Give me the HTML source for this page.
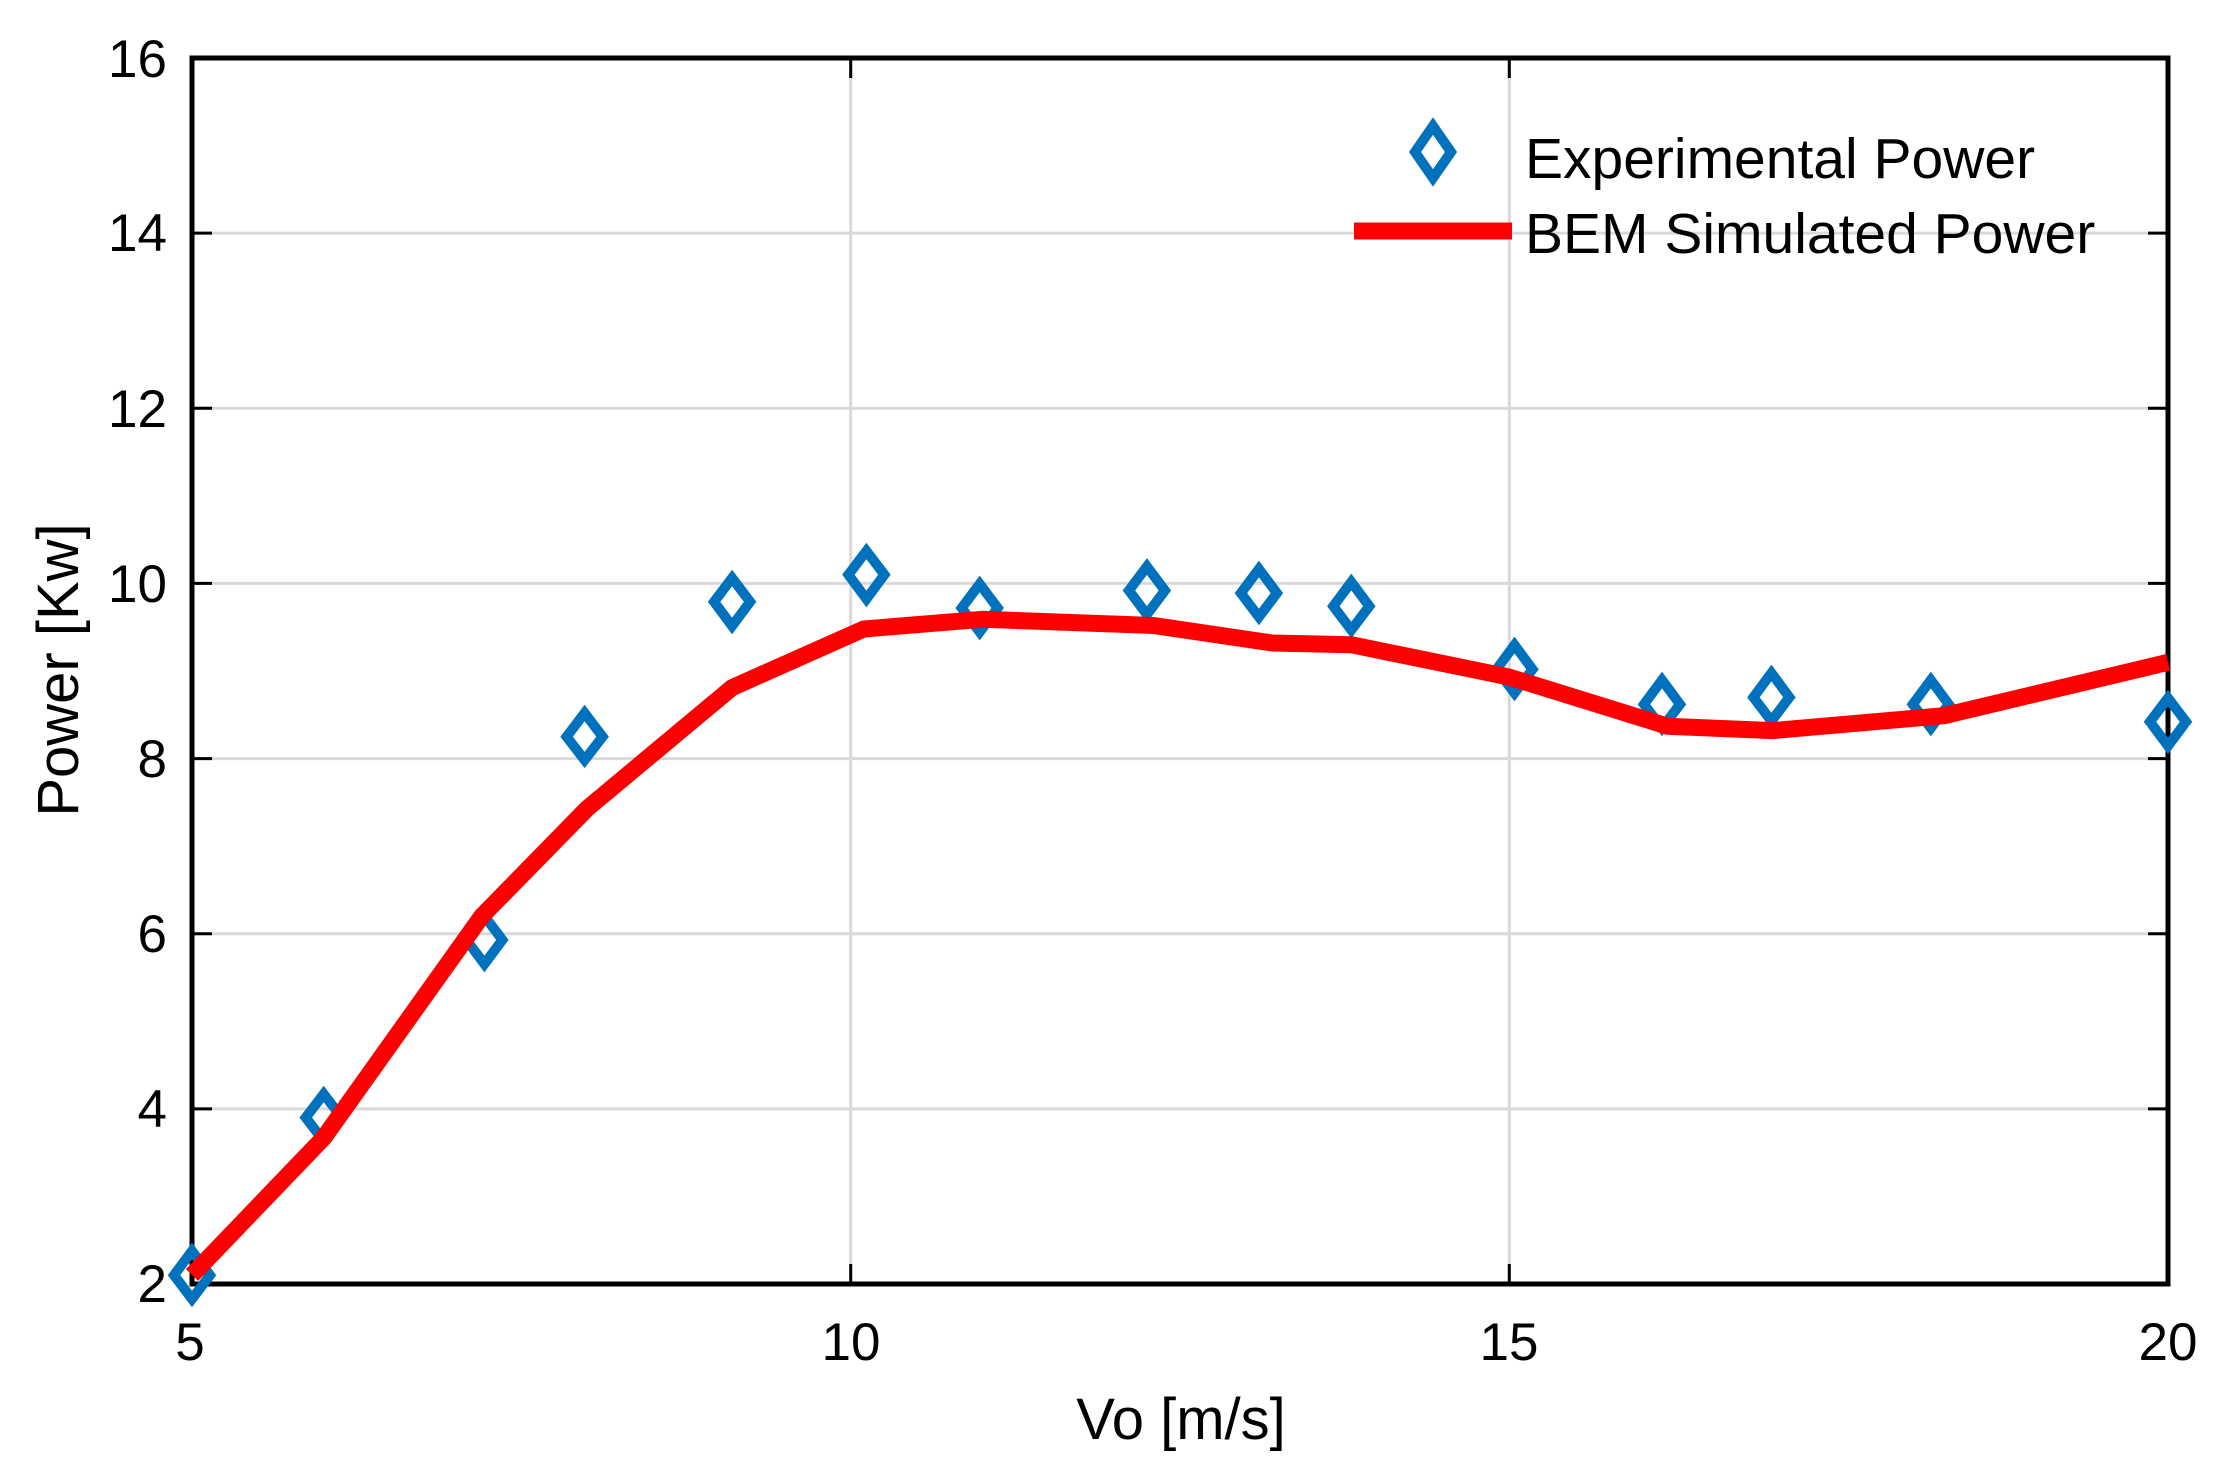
<!DOCTYPE html>
<html><head><meta charset="utf-8"><style>
html,body{margin:0;padding:0;background:#fff;}
svg{display:block;}
text{font-family:"Liberation Sans",Arial,sans-serif;fill:#000;}
</style></head><body>
<svg width="2226" height="1479" viewBox="0 0 2226 1479" xmlns="http://www.w3.org/2000/svg">
<rect width="2226" height="1479" fill="#fff"/>
<g stroke="#d9d9d9" stroke-width="3">
<line x1="850.7" y1="58" x2="850.7" y2="1284"/>
<line x1="1509.3" y1="58" x2="1509.3" y2="1284"/>
<line x1="192" y1="1108.9" x2="2168" y2="1108.9"/>
<line x1="192" y1="933.7" x2="2168" y2="933.7"/>
<line x1="192" y1="758.6" x2="2168" y2="758.6"/>
<line x1="192" y1="583.4" x2="2168" y2="583.4"/>
<line x1="192" y1="408.3" x2="2168" y2="408.3"/>
<line x1="192" y1="233.1" x2="2168" y2="233.1"/>
</g>
<g stroke="#000" stroke-width="3">
<line x1="850.7" y1="1284" x2="850.7" y2="1264"/><line x1="850.7" y1="58" x2="850.7" y2="78"/>
<line x1="1509.3" y1="1284" x2="1509.3" y2="1264"/><line x1="1509.3" y1="58" x2="1509.3" y2="78"/>
<line x1="192" y1="1108.9" x2="212" y2="1108.9"/><line x1="2168" y1="1108.9" x2="2148" y2="1108.9"/>
<line x1="192" y1="933.7" x2="212" y2="933.7"/><line x1="2168" y1="933.7" x2="2148" y2="933.7"/>
<line x1="192" y1="758.6" x2="212" y2="758.6"/><line x1="2168" y1="758.6" x2="2148" y2="758.6"/>
<line x1="192" y1="583.4" x2="212" y2="583.4"/><line x1="2168" y1="583.4" x2="2148" y2="583.4"/>
<line x1="192" y1="408.3" x2="212" y2="408.3"/><line x1="2168" y1="408.3" x2="2148" y2="408.3"/>
<line x1="192" y1="233.1" x2="212" y2="233.1"/><line x1="2168" y1="233.1" x2="2148" y2="233.1"/>
</g>
<rect x="192" y="58" width="1976" height="1226" fill="none" stroke="#000" stroke-width="5"/>
<g font-size="53" text-anchor="end">
<text x="167" y="1302">2</text>
<text x="167" y="1127">4</text>
<text x="167" y="952">6</text>
<text x="167" y="777">8</text>
<text x="167" y="602">10</text>
<text x="167" y="427">12</text>
<text x="167" y="251">14</text>
<text x="167" y="77">16</text>
</g>
<g font-size="53" text-anchor="middle">
<text x="190" y="1360">5</text>
<text x="851" y="1360">10</text>
<text x="1509" y="1360">15</text>
<text x="2168" y="1360">20</text>
</g>
<text x="1181" y="1439" font-size="58" text-anchor="middle">Vo [m/s]</text>
<text x="78" y="670" font-size="58" text-anchor="middle" transform="rotate(-90 78 670)">Power [Kw]</text>
<g fill="none" stroke="#0072BD" stroke-width="10" stroke-linejoin="miter">
<path d="M192,1251L210,1275.2L192,1299L174,1275.2Z"/>
<path d="M323.7,1094L341.7,1117.6L323.7,1141L305.7,1117.6Z"/>
<path d="M484.4,916L502.4,939.9L484.4,964L466.4,939.9Z"/>
<path d="M584.6,713L602.6,736.7L584.6,760L566.6,736.7Z"/>
<path d="M732.1,578L750.1,601.8L732.1,626L714.1,601.8Z"/>
<path d="M866.4,551L884.4,574.7L866.4,599L848.4,574.7Z"/>
<path d="M979.7,584L997.7,608L979.7,632L961.7,608Z"/>
<path d="M1146.9,566.5L1164.9,590.5L1146.9,614.5L1128.9,590.5Z"/>
<path d="M1258.9,569L1276.9,593.1L1258.9,617L1240.9,593.1Z"/>
<path d="M1351.3,582L1369.3,606.2L1351.3,630L1333.3,606.2Z"/>
<path d="M1514.5,645L1532.5,669.3L1514.5,693L1496.5,669.3Z"/>
<path d="M1662,680L1680,704.3L1662,728L1644,704.3Z"/>
<path d="M1771.4,673L1789.4,697.3L1771.4,721L1753.4,697.3Z"/>
<path d="M1930.8,680L1948.8,704.3L1930.8,728L1912.8,704.3Z"/>
<path d="M2168,698L2186,721.8L2168,746L2150,721.8Z"/>
</g>
<polyline fill="none" stroke="#ff0000" stroke-width="17" stroke-linejoin="round"
points="192,1275 323.7,1137.8 481.8,916.2 587.2,808.5 732.1,687.6 863.8,629 982.4,619.3 1153.7,625.5 1272.2,643 1351.3,644.7 1509.3,677.1 1667.5,726.2 1772.8,730.6 1944,715.7 2168,662.3"/>
<path d="M1433,126L1451,152L1433,178L1415,152Z" fill="none" stroke="#0072BD" stroke-width="10"/>
<line x1="1354" y1="231" x2="1512" y2="231" stroke="#ff0000" stroke-width="17"/>
<text x="1525" y="178" font-size="57">Experimental Power</text>
<text x="1525" y="253" font-size="57">BEM Simulated Power</text>
</svg>
</body></html>
